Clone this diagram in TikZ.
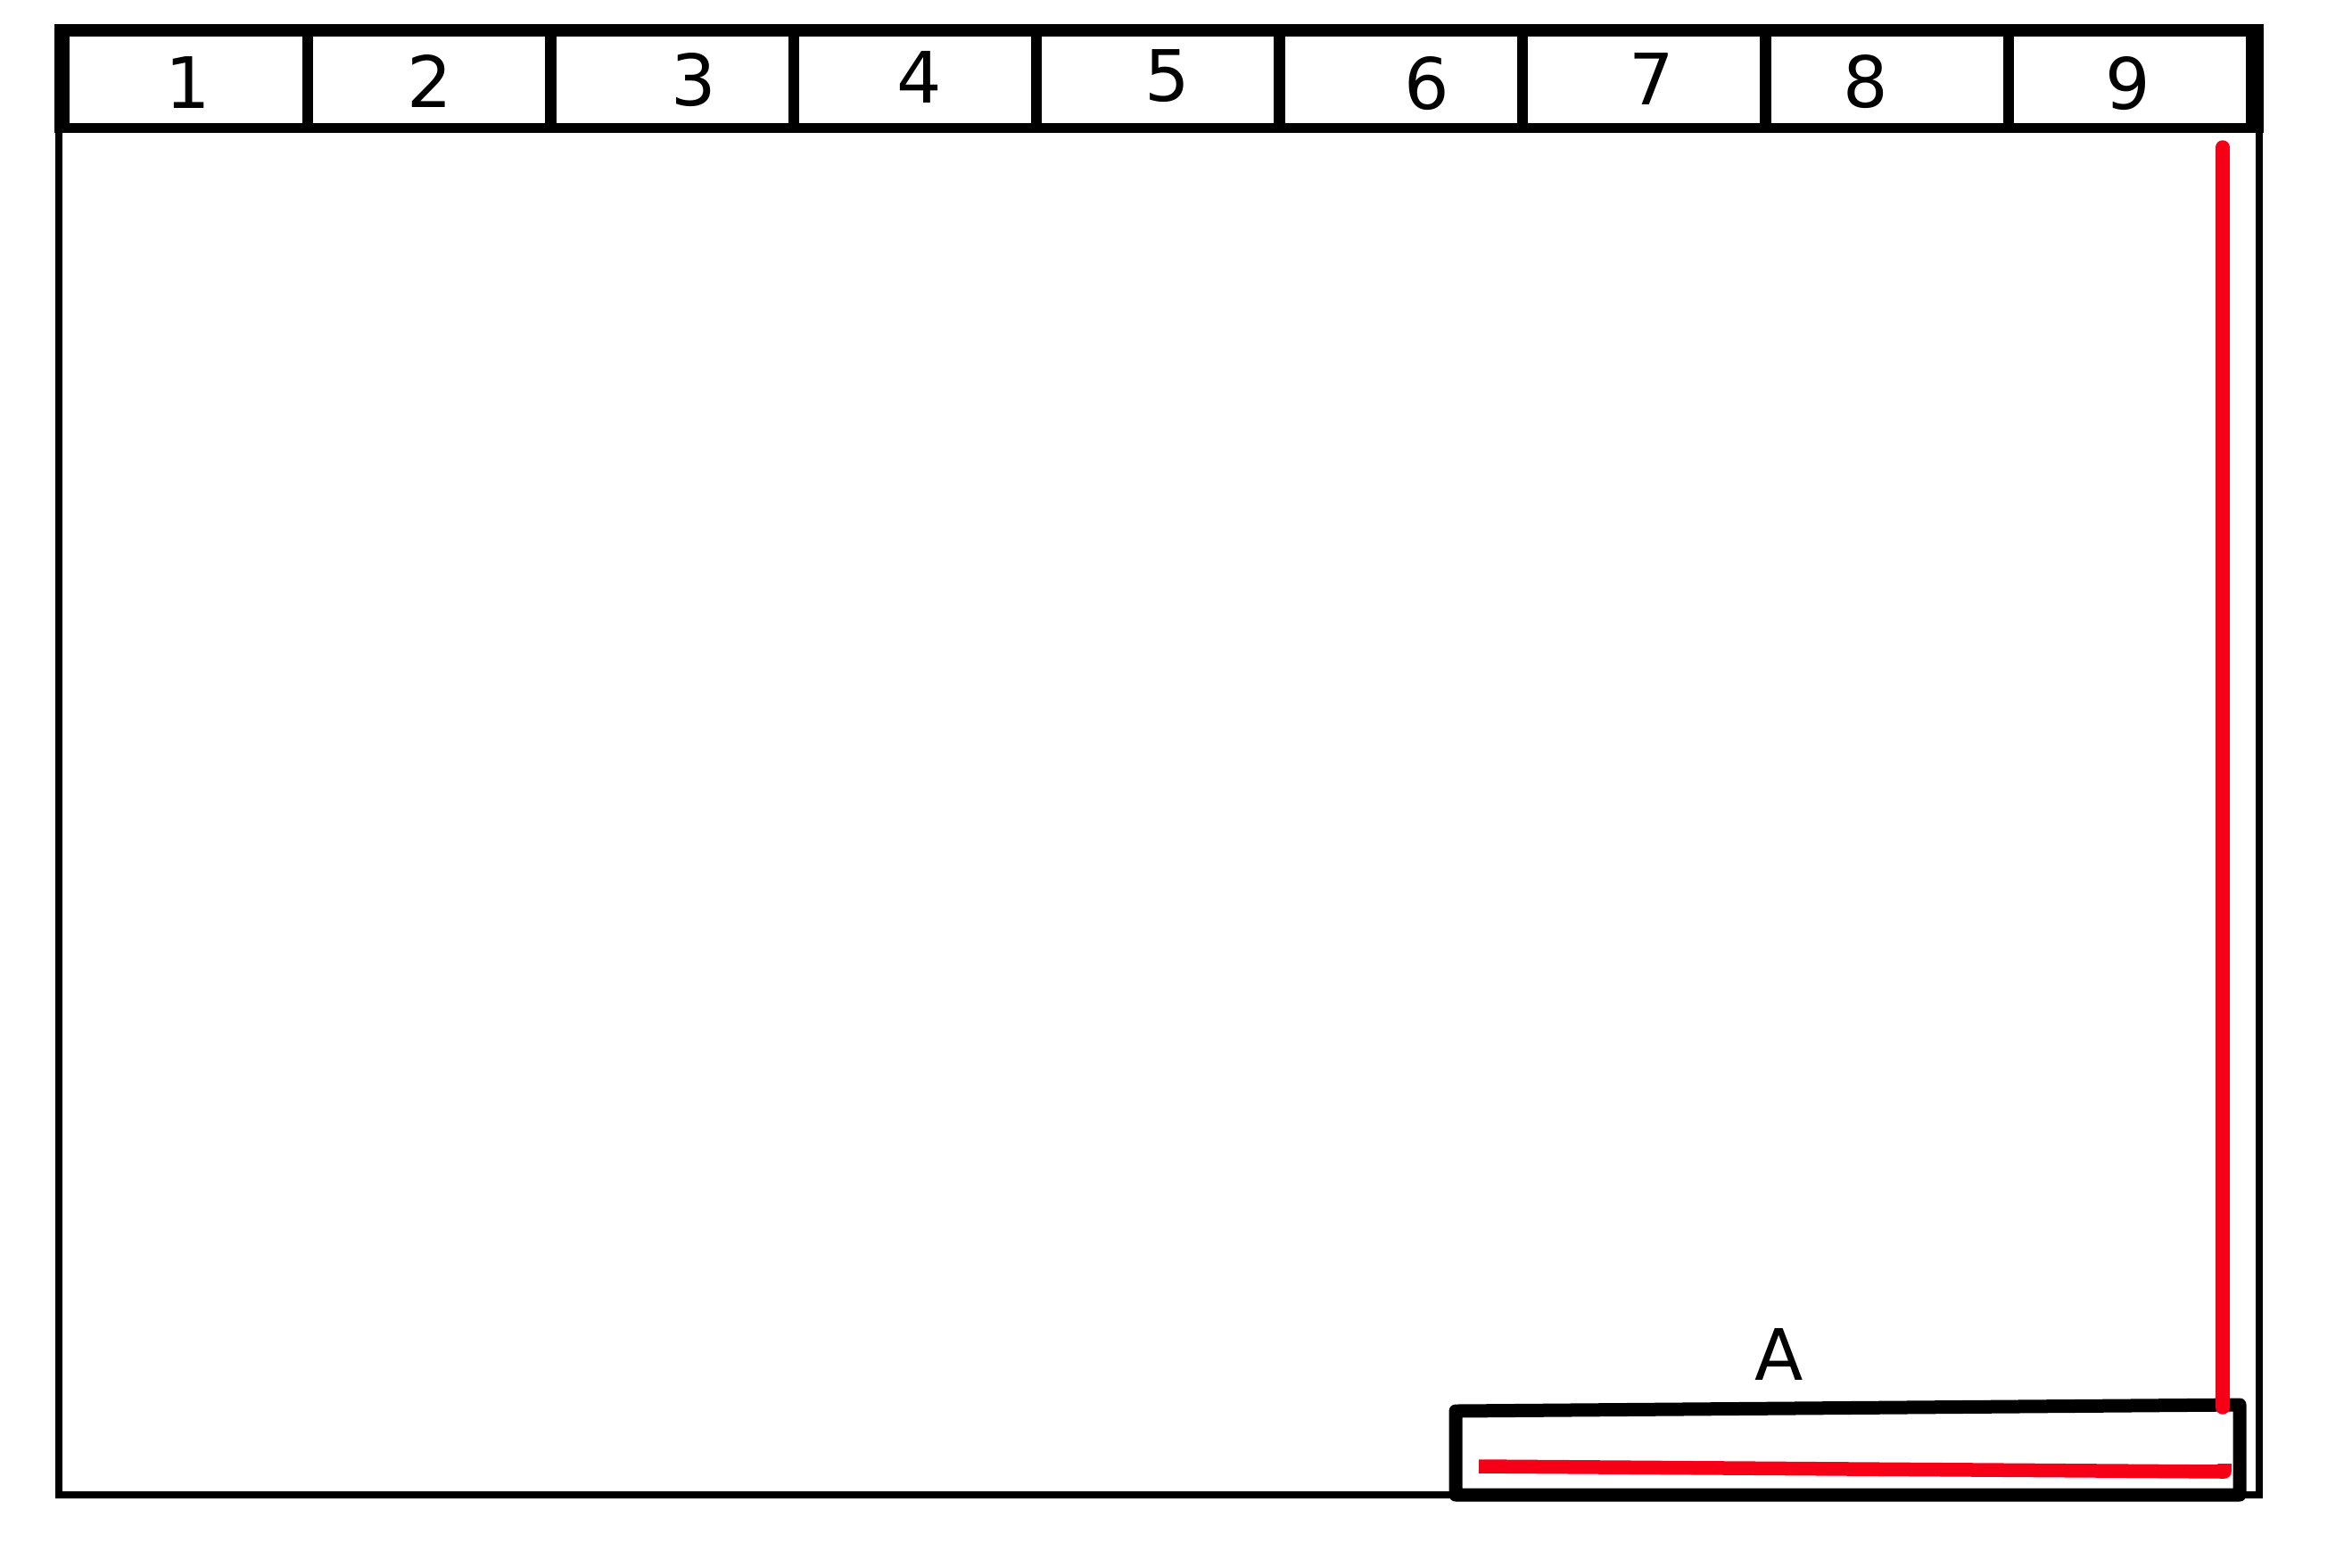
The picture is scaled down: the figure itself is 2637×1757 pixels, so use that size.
\documentclass[tikz,border=0pt]{standalone}
\usepackage{fontspec}
\setmainfont{DejaVu Sans}
\usepackage{xcolor}
\definecolor{markred}{RGB}{245,0,22}
\newcommand\fl{66}
\newcommand\fr{2533}
\newcommand\fb{1676}
\newcommand\cx{345}
\newcommand\cw{272.4}
\newcommand\hh{103}
\tikzset{
  frameline/.style={line width=0.08cm},
  headline/.style={line width=0.11cm},
  cellline/.style={line width=0.125cm},
  boxline/.style={line width=0.15cm,line join=round},
  redline/.style={markred,line width=0.155cm},
  numlabel/.style={anchor=base,inner sep=0pt,font=\fontsize{22.6}{27}\selectfont}
}

\begin{document}
\begin{tikzpicture}[x=0.01cm,y=-0.01cm]
    \useasboundingbox (0,0) rectangle (2637,1757);
    \fill[white] (0,0) rectangle (2637,1757);

    % frame
    \draw[frameline] (\fl,28) -- (\fl,\fb) -- (\fr,\fb) -- (\fr,140);

    \begin{scope}
      \draw[line width=0.14cm] (61,34) -- (2538,34);
      \draw[headline] (61,143) -- (2538,143);
      \fill (61,27) rectangle ++(17,121);
      \fill (2518,27) rectangle ++(20,121);
      \foreach \i in {0,...,7}
        \draw[cellline] (\cx+\i*\cw,40) -- ++(0,\hh);
      \foreach \n/\x/\y in {1/211/121,2/482/120,3/778/118,4/1031/115,5/1309/113,
                            6/1600/122,7/1852/117,8/2092/120,9/2386/122}
        \node[numlabel] (c\n) at (\x,\y) {\n};
    \end{scope}

    \begin{scope}
      \draw[boxline] (1632,1582) coordinate (bl) -- (2511,1575) coordinate (br)
        -- (2511,\fb) -- (1632,\fb) -- cycle;
      \node[numlabel] (lblA) at (1995,1547) {A};

      \draw[redline,line cap=round] (2492,1578) -- (2492,165);
      \draw[redline,line join=round] (1658,1644) -- (2494,1650) -- ++(0,-9);
    \end{scope}
  \end{tikzpicture}
\end{document}
